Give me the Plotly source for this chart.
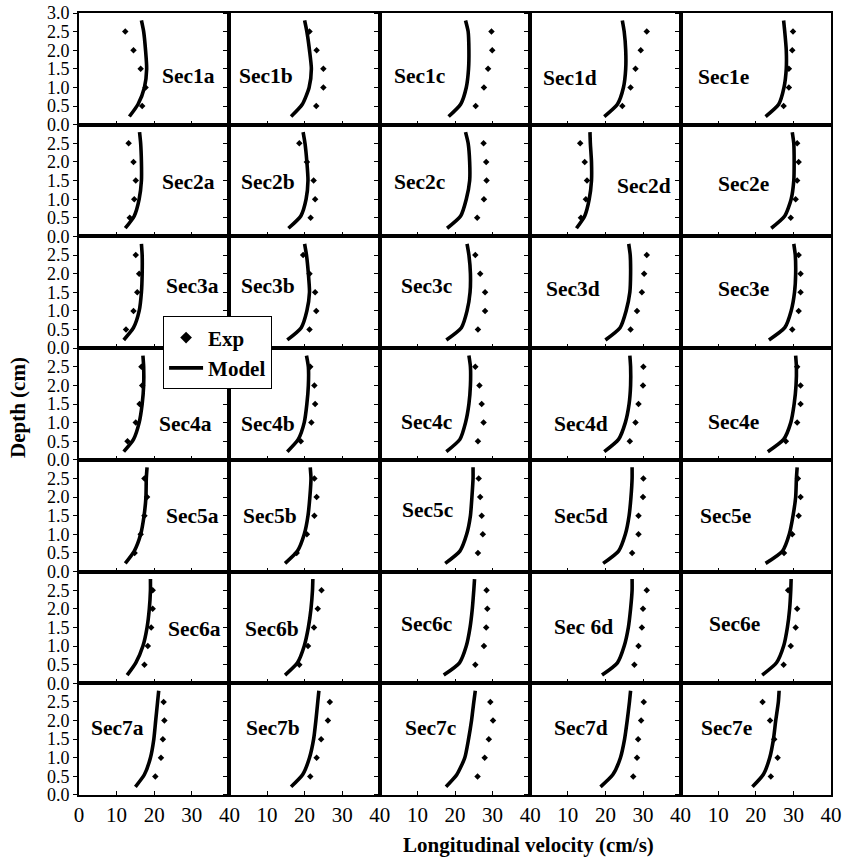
import plotly.graph_objects as go

# ---------------- data ----------------
SECTIONS = ["Sec1a", "Sec1b", "Sec1c", "Sec1d", "Sec1e",
            "Sec2a", "Sec2b", "Sec2c", "Sec2d", "Sec2e",
            "Sec3a", "Sec3b", "Sec3c", "Sec3d", "Sec3e",
            "Sec4a", "Sec4b", "Sec4c", "Sec4d", "Sec4e",
            "Sec5a", "Sec5b", "Sec5c", "Sec5d", "Sec5e",
            "Sec6a", "Sec6b", "Sec6c", "Sec 6d", "Sec6e",
            "Sec7a", "Sec7b", "Sec7c", "Sec7d", "Sec7e"]

EXP_DEPTH = [0.5, 1.0, 1.5, 2.0, 2.5]
MODEL_DEPTH = [0.22, 0.55, 1.0, 1.5, 2.0, 2.5, 2.8]

EXP = [
    [16.8, 17.7, 16.4, 14.5, 12.3], [23.1, 25.0, 25.0, 23.2, 21.3], [25.5, 27.7, 28.8, 29.9, 29.7],
    [24.5, 26.7, 28.0, 29.4, 31.0], [27.4, 28.8, 28.8, 29.7, 29.9],
    [13.5, 14.7, 15.1, 14.5, 13.2], [21.6, 22.8, 22.4, 20.6, 18.6], [25.9, 27.7, 28.4, 28.3, 27.6],
    [13.5, 14.8, 15.1, 14.5, 13.3], [29.3, 30.6, 31.0, 31.4, 31.0],
    [12.5, 14.5, 15.5, 16.0, 15.1], [21.3, 23.1, 22.8, 21.3, 19.6], [26.1, 28.0, 28.0, 26.7, 25.4],
    [26.7, 28.4, 29.7, 30.3, 31.0], [29.7, 31.4, 31.9, 31.9, 31.4],
    [12.9, 15.1, 16.1, 16.8, 16.6], [19.0, 21.8, 22.8, 22.6, 21.5], [26.1, 27.6, 27.1, 26.5, 25.4],
    [26.5, 28.0, 28.8, 30.0, 30.1], [28.0, 31.0, 31.9, 31.9, 31.0],
    [14.8, 16.4, 17.4, 18.1, 17.4], [17.9, 20.6, 22.6, 23.2, 22.6], [26.1, 27.4, 27.1, 26.7, 26.3],
    [27.1, 28.8, 28.8, 30.0, 30.1], [27.5, 29.7, 31.4, 31.9, 31.2],
    [17.4, 18.3, 19.2, 19.6, 19.6], [18.6, 20.9, 22.5, 23.5, 24.5], [25.4, 27.7, 28.3, 28.6, 28.4],
    [27.7, 28.8, 29.7, 30.0, 31.0], [27.4, 29.3, 30.6, 31.0, 28.6],
    [20.3, 21.8, 22.3, 22.7, 22.5], [21.5, 23.2, 24.4, 26.2, 26.7], [26.0, 27.9, 29.0, 30.1, 29.4],
    [27.4, 28.4, 28.7, 29.5, 30.2], [24.0, 25.8, 24.9, 23.8, 21.8],
]

MODEL = [
    [13.4, 15.7, 17.4, 18.0, 17.7, 17.2, 16.6], [16.4, 19.4, 21.2, 21.8, 21.3, 20.6, 20.0],
    [18.3, 21.5, 23.0, 23.6, 23.7, 23.5, 22.8], [19.7, 23.2, 24.8, 25.4, 25.4, 25.0, 24.5],
    [22.6, 26.1, 27.5, 28.1, 28.1, 27.7, 27.4],
    [12.3, 14.7, 16.0, 16.6, 16.6, 16.4, 16.1], [15.7, 19.0, 20.4, 20.9, 20.6, 20.1, 19.6],
    [17.9, 21.5, 23.0, 23.9, 23.9, 23.5, 22.8], [12.3, 14.5, 15.7, 16.3, 16.3, 16.0, 15.9],
    [24.1, 27.7, 29.4, 30.1, 30.2, 30.1, 29.7],
    [11.9, 14.5, 16.0, 16.6, 16.8, 16.8, 16.6], [15.4, 19.1, 20.6, 21.3, 21.0, 20.5, 20.0],
    [17.7, 21.7, 23.2, 24.0, 24.1, 23.7, 23.2], [20.0, 23.9, 25.5, 26.5, 26.7, 26.6, 26.2],
    [23.5, 27.7, 29.4, 30.3, 30.6, 30.5, 30.1],
    [11.9, 14.5, 16.0, 16.8, 17.2, 17.2, 17.0], [15.4, 18.3, 19.9, 20.6, 21.0, 21.0, 20.5],
    [17.7, 21.3, 22.8, 23.7, 24.1, 24.1, 23.7], [19.7, 23.5, 25.3, 26.3, 26.7, 26.7, 26.5],
    [23.2, 27.4, 29.3, 30.2, 30.7, 30.8, 30.6],
    [12.3, 14.7, 16.4, 17.3, 17.8, 17.9, 18.1], [14.8, 18.1, 19.9, 20.9, 21.4, 21.7, 21.5],
    [17.4, 21.3, 23.1, 24.1, 24.5, 24.8, 24.8], [19.4, 23.5, 25.3, 26.3, 26.8, 27.1, 27.1],
    [22.6, 27.1, 28.9, 29.9, 30.6, 30.8, 31.0],
    [12.8, 15.1, 17.0, 18.1, 18.7, 19.0, 19.0], [14.8, 18.1, 19.9, 21.0, 21.7, 22.1, 22.2],
    [17.0, 21.2, 23.0, 24.0, 24.6, 25.0, 25.2], [19.1, 23.2, 25.0, 26.1, 26.7, 27.1, 27.1],
    [21.7, 25.5, 27.4, 28.4, 29.0, 29.3, 29.4],
    [15.0, 17.4, 19.0, 19.9, 20.4, 20.9, 21.2], [16.4, 19.5, 21.3, 22.4, 23.0, 23.5, 23.8],
    [17.6, 20.5, 22.6, 23.6, 24.4, 25.0, 25.4], [18.7, 22.0, 24.0, 25.1, 25.8, 26.4, 26.7],
    [19.1, 22.0, 23.7, 24.7, 25.3, 26.0, 26.2],
]

# label anchor (velocity, depth) for each panel's name
LABEL_X = [29.0, 9.7, 10.6, 10.7, 11.5,
           29.0, 10.2, 10.6, 30.2, 16.8,
           30.1, 10.2, 12.5, 11.5, 16.8,
           28.3, 10.2, 12.5, 13.4, 14.1,
           30.2, 10.7, 12.8, 13.4, 11.9,
           30.8, 11.2, 12.5, 14.1, 14.3,
           10.2, 11.7, 13.4, 13.6, 12.2]
LABEL_Y = [1.30, 1.30, 1.32, 1.25, 1.27,
           1.45, 1.45, 1.45, 1.36, 1.41,
           1.68, 1.68, 1.68, 1.60, 1.60,
           0.95, 0.95, 1.03, 0.95, 1.03,
           1.50, 1.50, 1.64, 1.50, 1.50,
           1.45, 1.45, 1.60, 1.50, 1.60,
           1.81, 1.81, 1.81, 1.81, 1.81]

X_TICKS = [0, 10, 20, 30, 40]
Y_TICKS = [0.0, 0.5, 1.0, 1.5, 2.0, 2.5, 3.0]

# ---------------- figure ----------------
NR, NC = 7, 5
FONT = "Liberation Serif"
fig = go.Figure()
layout = {}
annotations = []

for i in range(NR * NC):
    r, c = divmod(i, NC)
    n = i + 1
    xa = "x" if n == 1 else f"x{n}"
    ya = "y" if n == 1 else f"y{n}"
    fig.add_trace(go.Scatter(
        x=MODEL[i], y=MODEL_DEPTH, mode="lines",
        line=dict(color="black", width=3.6, shape="spline", smoothing=0.6),
        xaxis=xa, yaxis=ya, showlegend=False, hoverinfo="skip"))
    fig.add_trace(go.Scatter(
        x=EXP[i], y=EXP_DEPTH, mode="markers",
        marker=dict(symbol="diamond", size=5, color="black"),
        xaxis=xa, yaxis=ya, showlegend=False, hoverinfo="skip"))

    xt = [str(v) for v in X_TICKS]
    if c > 0:
        xt[0] = ""
    yt = [f"{v:.1f}" for v in Y_TICKS]
    if r > 0:
        yt[-1] = ""

    common = dict(showline=True, linecolor="black", linewidth=2, mirror=True,
                  showgrid=False, zeroline=False, ticklen=4, tickwidth=1,
                  tickcolor="black", fixedrange=True, automargin=False)
    layout["xaxis" if n == 1 else f"xaxis{n}"] = dict(
        common, domain=[c / NC, (c + 1) / NC], range=[0, 40], anchor=ya,
        tickvals=X_TICKS, ticktext=xt, ticks="inside",
        tickfont=dict(family=FONT, size=21, color="black"),
        showticklabels=(r == NR - 1))
    layout["yaxis" if n == 1 else f"yaxis{n}"] = dict(
        common, domain=[1 - (r + 1) / NR, 1 - r / NR], range=[0, 3.0], anchor=xa,
        tickvals=Y_TICKS, ticktext=yt, ticks="outside",
        tickfont=dict(family=FONT, size=18, color="black"),
        showticklabels=(c == 0))

    annotations.append(dict(
        x=LABEL_X[i], y=LABEL_Y[i], xref=xa, yref=ya,
        text=f"<b>{SECTIONS[i]}</b>", showarrow=False,
        font=dict(family=FONT, size=21.5, color="black"),
        xanchor="center", yanchor="middle"))

# legend entries
fig.add_trace(go.Scatter(x=[None], y=[None], mode="markers", name="<b>Exp</b>",
                         marker=dict(symbol="diamond", size=9, color="black")))
fig.add_trace(go.Scatter(x=[None], y=[None], mode="lines", name="<b>Model</b>",
                         line=dict(color="black", width=3.6)))

annotations.append(dict(
    x=0.598, y=-0.064, xref="paper", yref="paper",
    text="<b>Longitudinal velocity (cm/s)</b>", showarrow=False,
    font=dict(family=FONT, size=21, color="black"),
    xanchor="center", yanchor="middle"))
annotations.append(dict(
    x=-0.081, y=0.495, xref="paper", yref="paper",
    text="<b>Depth (cm)</b>", showarrow=False, textangle=-90,
    font=dict(family=FONT, size=21, color="black"),
    xanchor="center", yanchor="middle"))

fig.update_layout(
    width=844, height=859,
    margin=dict(l=79, r=13, t=13, b=64, autoexpand=False),
    paper_bgcolor="white", plot_bgcolor="white",
    annotations=annotations,
    legend=dict(x=0.1118, y=0.612, xanchor="left", yanchor="top",
                bgcolor="white", bordercolor="black", borderwidth=1,
                font=dict(family=FONT, size=21, color="black"),
                tracegroupgap=0, itemwidth=34),
    showlegend=True,
    **layout)

fig.write_html("out.html")
